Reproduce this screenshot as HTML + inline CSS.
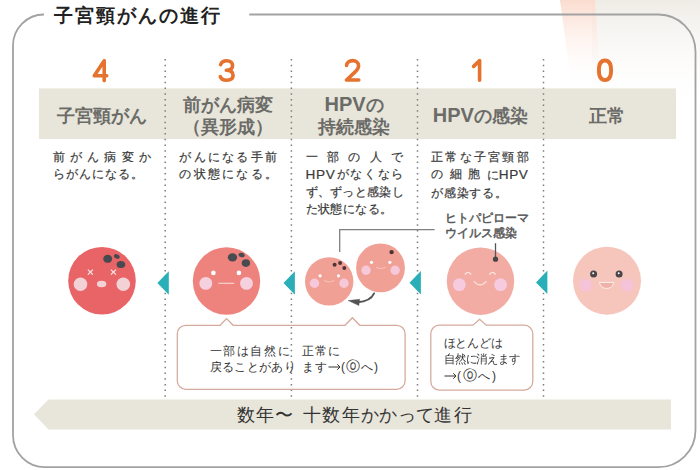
<!DOCTYPE html>
<html lang="ja">
<head>
<meta charset="utf-8">
<style>
*{margin:0;padding:0;box-sizing:border-box}
html,body{width:700px;height:470px;overflow:hidden;background:#fff}
body{position:relative;font-family:"Liberation Sans",sans-serif;color:#333}
.abs{position:absolute}
#title{position:absolute;left:53.8px;top:3px;font-size:19px;font-weight:bold;color:#222;white-space:nowrap;letter-spacing:2px}
.hd{position:absolute;top:90px;width:126px;height:51px;display:flex;flex-direction:column;justify-content:center;align-items:center;font-size:18px;font-weight:bold;color:#6b6b68;line-height:22px;text-align:center;white-space:nowrap}
.hd .lat{font-size:20px}
.desc{position:absolute;top:149.4px;width:97.5px;font-size:12.4px;color:#3a3a3a;line-height:17.1px;-webkit-text-stroke:0.2px #3a3a3a}
.desc .hpv{font-size:13.6px;letter-spacing:0.6px}
.desc div{white-space:nowrap}
.desc .j{text-align:justify;text-align-last:justify}
.lbl{position:absolute;font-size:12px;color:#555;line-height:15.5px;white-space:nowrap;-webkit-text-stroke:0.5px #5a5a5a}
.btxt{position:absolute;font-size:12px;color:#333;line-height:16.6px;white-space:nowrap}
.j{text-align:justify;text-align-last:justify}
#btm{position:absolute;left:236.5px;top:402.5px;font-size:18px;color:#333;white-space:nowrap;line-height:24px;letter-spacing:1.3px}
</style>
</head>
<body>
<!-- background decorations -->
<svg class="abs" style="left:0;top:0" width="700" height="470" viewBox="0 0 700 470">
  <defs>
    <linearGradient id="gg" x1="0" y1="0" x2="0" y2="1">
      <stop offset="0" stop-color="#efece6"/>
      <stop offset="1" stop-color="#ffffff" stop-opacity="0"/>
    </linearGradient>
    <linearGradient id="pg" x1="0" y1="0" x2="0" y2="1">
      <stop offset="0" stop-color="#fbdccf"/>
      <stop offset="1" stop-color="#fff" stop-opacity="0"/>
    </linearGradient>
  </defs>
  <rect x="592" y="0" width="108" height="110" fill="url(#gg)"/>
  <polygon points="560,0 595,0 601,90 572,90" fill="url(#pg)"/>
  <!-- frame -->
  <path d="M249.3 14.5 H658.5 A37 37 0 0 1 695.5 51.5 V430.2 A37 37 0 0 1 658.5 467.2 H45 A32 32 0 0 1 13 435.2 V45.5 A31 31 0 0 1 44 14.5" fill="none" stroke="#a2a2a2" stroke-width="1.8"/>
  <!-- header band -->
  <rect x="39" y="88.4" width="637" height="50.6" fill="#e8e5da"/>
  <!-- bottom arrow band -->
  <polygon points="34,414.2 48.5,399.4 671,399.4 671,429.4 48.5,429.4" fill="#e8e5da"/>
  <!-- dotted lines -->
  <g stroke="#7d7d7d" stroke-width="1.5" stroke-dasharray="1.5 4.2">
    <line x1="165.2" y1="59" x2="165.2" y2="399"/>
    <line x1="291.4" y1="59" x2="291.4" y2="399"/>
    <line x1="417.5" y1="59" x2="417.5" y2="399"/>
    <line x1="543.5" y1="59" x2="543.5" y2="399"/>
  </g>
</svg>

<div id="title">子宮頸がんの進行</div>


<div class="hd" style="left:38.5px">子宮頸がん</div>
<div class="hd" style="left:164.8px"><div>前がん病変</div><div>（異形成）</div></div>
<div class="hd" style="left:291.1px"><div><span class="lat">HPV</span>の</div><div>持続感染</div></div>
<div class="hd" style="left:417.4px"><div><span class="lat">HPV</span>の感染</div></div>
<div class="hd" style="left:543.7px">正常</div>

<div class="desc" style="left:53.2px"><div class="j">前がん病変か</div><div style="letter-spacing:1px">らがんになる。</div></div>
<div class="desc" style="left:179.3px"><div class="j">がんになる手前</div><div class="j">の状態になる。</div></div>
<div class="desc" style="left:305.6px"><div class="j">一部の人で</div><div style="display:flex;justify-content:space-between"><span class="hpv">HPV</span><span>が</span><span>な</span><span>く</span><span>な</span><span>ら</span></div><div class="j" style="letter-spacing:-0.6px">ず、ずっと感染し</div><div style="letter-spacing:0.4px">た状態になる。</div></div>
<div class="desc" style="left:431px"><div class="j">正常な子宮頸部</div><div style="display:flex;justify-content:space-between"><span>の</span><span>細</span><span>胞</span><span>に<span class="hpv">HPV</span></span></div><div style="letter-spacing:0.8px">が感染する。</div></div>

<div class="lbl" style="left:445px;top:210.6px">ヒトパピローマ<br>ウイルス感染</div>

<!-- faces svg -->
<svg class="abs" style="left:0;top:0" width="700" height="470" viewBox="0 0 700 470">
  <!-- digits -->
  <g fill="none" stroke="#e5722e" stroke-width="3.6" stroke-linecap="round" stroke-linejoin="round">
    <path d="M104.2 60.8 L94.3 75.8 H106.7 M104.2 60.8 V80.6"/>
    <path d="M220.6 64.6 C221.6 62 223.8 60.7 226.6 60.7 C230.4 60.7 232.6 62.9 232.6 65.6 C232.6 68.6 230.3 70.3 226.3 70.3 C230.8 70.3 233.1 72.4 233.1 75.6 C233.1 78.6 230.6 80.3 226.6 80.3 C223.4 80.3 221.1 78.9 220.3 76.6"/>
    <path d="M346.6 65.4 C346.9 62.5 349.3 60.6 352.6 60.6 C356.2 60.6 358.6 62.8 358.6 65.8 C358.6 68.4 357.0 70.3 354.4 72.6 L346.5 80.0 H358.8"/>
    <path d="M473.6 66.4 L479.6 60.6 V80.3"/>
    <path d="M605 60.5 C609.5 60.5 611.1 64.8 611.1 70.3 C611.1 75.8 609.5 80.1 605 80.1 C600.5 80.1 598.9 75.8 598.9 70.3 C598.9 64.8 600.5 60.5 605 60.5 Z" stroke-width="3.9"/>
  </g>
  <!-- connector -->
  <polyline points="339.7,252 339.7,229.6 434.6,229.6" fill="none" stroke="#808080" stroke-width="1.3"/>
  <!-- face 4 -->
  <circle cx="102" cy="280.7" r="33.8" fill="#e96466"/>
  <g fill="#474a4f">
    <ellipse cx="107.7" cy="258.8" rx="4.5" ry="4"/>
    <ellipse cx="116.8" cy="256.5" rx="3" ry="2.2" transform="rotate(20 116.8 256.5)"/>
    <ellipse cx="120.9" cy="264.5" rx="4.3" ry="3.6"/>
  </g>
  <g stroke="#f8e6e6" stroke-width="1.3" stroke-linecap="butt">
    <path d="M87.9 269.6 L92.9 274.6 M92.9 269.6 L87.9 274.6"/>
    <path d="M110.9 269.6 L115.9 274.6 M115.9 269.6 L110.9 274.6"/>
  </g>
  <g fill="#f3d2d5">
    <circle cx="80.5" cy="284.2" r="6.8"/>
    <circle cx="123.3" cy="284.2" r="6.8"/>
    <ellipse cx="101.6" cy="284" rx="4.7" ry="3.3"/>
  </g>
  <!-- face 3 -->
  <circle cx="226.5" cy="281" r="33.7" fill="#ee837d"/>
  <g fill="#4a4b50">
    <ellipse cx="232.5" cy="257.3" rx="4.7" ry="4.1"/>
    <ellipse cx="241.6" cy="255" rx="3.2" ry="2.2" transform="rotate(15 241.6 255)"/>
    <ellipse cx="245.9" cy="263.1" rx="4.2" ry="3.8"/>
  </g>
  <g fill="#fff">
    <circle cx="213.4" cy="272.9" r="2.3"/>
    <circle cx="238.9" cy="272.9" r="2.3"/>
  </g>
  <line x1="218.4" y1="283.3" x2="234.2" y2="283.3" stroke="#f9d3d0" stroke-width="1.2"/>
  <g fill="#f5d0de">
    <circle cx="205.8" cy="283.4" r="6.4"/>
    <circle cx="246.5" cy="283.4" r="6.4"/>
  </g>
  <!-- face 2 left -->
  <circle cx="329.2" cy="281.4" r="24.2" fill="#f1a096"/>
  <g fill="#4e3434">
    <circle cx="334.6" cy="264.7" r="2"/>
    <circle cx="340.1" cy="263.1" r="2"/>
    <circle cx="344.3" cy="268" r="2"/>
  </g>
  <g fill="#fff">
    <circle cx="320.1" cy="275.8" r="1.6"/>
    <circle cx="338.5" cy="275.8" r="1.6"/>
  </g>
  <path d="M323.8 280.6 Q329.1 283.4 334.4 280.6" fill="none" stroke="#f8c4b6" stroke-width="1"/>
  <g fill="#f5c8da">
    <circle cx="314.5" cy="283.2" r="4.7"/>
    <circle cx="344" cy="283.2" r="4.7"/>
  </g>
  <!-- face 2 right -->
  <circle cx="380.5" cy="267.9" r="24.4" fill="#f1a096"/>
  <circle cx="391.6" cy="252.1" r="2.2" fill="#4e3434"/>
  <g fill="#fff">
    <circle cx="371.5" cy="262.3" r="1.6"/>
    <circle cx="389.9" cy="262.3" r="1.6"/>
  </g>
  <path d="M376.2 267.4 Q380.9 270 385.6 267.4" fill="none" stroke="#f8c4b6" stroke-width="1"/>
  <g fill="#f5c8da">
    <circle cx="366" cy="270.3" r="4.7"/>
    <circle cx="395.1" cy="270.3" r="4.7"/>
  </g>
  <!-- curved arrow -->
  <path d="M374.1 293.4 C371.6 298.8 366.6 301.7 357.5 302.3" fill="none" stroke="#545454" stroke-width="1.9" stroke-linecap="round"/>
  <path d="M348.1 300.6 L359.7 299.2 L358.9 305.5 Z" fill="#545454" stroke="#545454" stroke-width="0.4" stroke-linejoin="round"/>
  <!-- face 1 -->
  <circle cx="480.5" cy="281.2" r="33.7" fill="#f2aca4"/>
  <line x1="495.5" y1="243.2" x2="495.5" y2="259" stroke="#555" stroke-width="1.3"/>
  <circle cx="495.5" cy="259.2" r="2.6" fill="#464646"/>
  <g fill="none" stroke="#fbe4dc" stroke-width="1.3" stroke-linecap="round">
    <path d="M465.2 274.2 Q468 270.4 470.8 274.2"/>
    <path d="M489.7 274.2 Q492.5 270.4 495.3 274.2"/>
    <path d="M474.2 281.6 Q480.1 288.2 486.1 281.6"/>
  </g>
  <g fill="#f6cbdf">
    <circle cx="459.3" cy="284.7" r="6.4"/>
    <circle cx="500.6" cy="284.7" r="6.4"/>
  </g>
  <!-- face 0 -->
  <circle cx="607" cy="280.7" r="34" fill="#f6c5bb"/>
  <g fill="#4a4549">
    <circle cx="593.6" cy="274.1" r="3.5"/>
    <circle cx="619.1" cy="274.1" r="3.5"/>
  </g>
  <g fill="#fff">
    <circle cx="593.2" cy="273.2" r="1"/>
    <circle cx="618.7" cy="273.2" r="1"/>
  </g>
  <path d="M599.4 282.4 H613.8 C613 286.4 610.3 288.4 606.6 288.4 C602.9 288.4 600.2 286.4 599.4 282.4 Z" fill="#efb2a8" stroke="#fdf0ec" stroke-width="1"/>
  <filter id="sb" x="-50%" y="-50%" width="200%" height="200%"><feGaussianBlur stdDeviation="0.9"/></filter>
  <g fill="#f5c3da" filter="url(#sb)">
    <circle cx="585.7" cy="285.1" r="6.3"/>
    <circle cx="627" cy="285.1" r="6.3"/>
  </g>
  <!-- triangles -->
  <g fill="#2aafb9">
    <polygon points="157.4,283.1 168.8,271.3 168.8,294.8"/>
    <polygon points="283.5,283.1 294.9,271.3 294.9,294.8"/>
    <polygon points="409.5,282.8 420.9,271 420.9,294.5"/>
    <polygon points="536,282.4 547.4,270.6 547.4,294.1"/>
  </g>
  <!-- bubbles -->
  <path d="M185.8 325.3 H220.1 L226.5 318.6 L233.2 325.3 H345 L352.4 317.7 L359.8 325.3 H396.6 A8.5 8.5 0 0 1 405.1 333.8 V380.8 A8.5 8.5 0 0 1 396.6 389.3 H185.8 A8.5 8.5 0 0 1 177.3 380.8 V333.8 A8.5 8.5 0 0 1 185.8 325.3 Z" fill="none" stroke="#d5a99b" stroke-width="1.25"/>
  <path d="M439.3 325.2 H473 L479.6 319.3 L486.2 325.2 H524.3 A8.5 8.5 0 0 1 532.8 333.7 V381.5 A8.5 8.5 0 0 1 524.3 390 H439.3 A8.5 8.5 0 0 1 430.8 381.5 V333.7 A8.5 8.5 0 0 1 439.3 325.2 Z" fill="none" stroke="#d5a99b" stroke-width="1.25"/>
</svg>

<div class="btxt" style="left:209.5px;top:342.6px"><div class="j" style="width:80px">一部は自然に</div><div class="j" style="width:85.5px;letter-spacing:-0.6px">戻ることがあり</div></div>
<div class="btxt" style="left:301.5px;top:342.6px"><div class="j" style="width:38px">正常に</div><div class="j" style="width:76px;letter-spacing:-0.6px">ます<svg width="13" height="8" viewBox="0 0 13 8" style="vertical-align:0px;margin:0 0.5px 0 0"><path d="M0.5 4H12M9.3 1.3L12 4L9.3 6.7" fill="none" stroke="#333" stroke-width="1"/></svg>(<span style="font-size:13.5px;line-height:10px">⓪</span>へ)</div></div>
<div class="btxt" style="left:443.5px;top:334.5px"><div class="j" style="width:58.8px;letter-spacing:-0.6px">ほとんどは</div><div style="letter-spacing:-0.6px;transform:scaleX(0.95);transform-origin:0 0">自然に消えます</div><div class="j" style="width:52px;letter-spacing:-0.6px"><svg width="13" height="8" viewBox="0 0 13 8" style="vertical-align:0px;margin:0 0.5px 0 0"><path d="M0.5 4H12M9.3 1.3L12 4L9.3 6.7" fill="none" stroke="#333" stroke-width="1"/></svg>(<span style="font-size:13.5px;line-height:10px">⓪</span>へ)</div></div>

<div id="btm">数年〜<span style="display:inline-block;width:8.5px"></span>十数年<span style="letter-spacing:0.4px">かかって</span>進行</div>
</body>
</html>
